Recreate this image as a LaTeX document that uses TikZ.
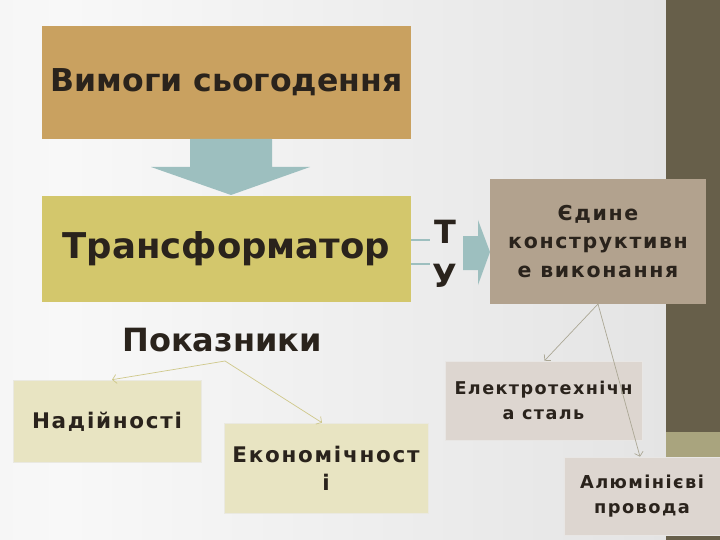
\documentclass[tikz,border=0pt]{standalone}
\usepackage{fontspec}
\setmainfont{DejaVu Sans}
\newfontfamily\spaced[LetterSpace=8]{DejaVu Sans}
\usetikzlibrary{arrows.meta}
\definecolor{bgA}{HTML}{F8F8F8}
\definecolor{bgL}{HTML}{EDEDED}
\definecolor{bgB}{HTML}{D9D9D9}
\definecolor{barDark}{HTML}{675F4A}
\definecolor{barLight}{HTML}{A9A47E}
\definecolor{tanC}{HTML}{C9A160}
\definecolor{yelC}{HTML}{D3C76C}
\definecolor{greyC}{HTML}{B2A28E}
\definecolor{paleY}{HTML}{E8E4C2}
\definecolor{paleG}{HTML}{DDD6D0}
\definecolor{arrC}{HTML}{9DBFBF}
\definecolor{txt}{HTML}{2A231C}
\definecolor{lnY}{HTML}{CFC88A}
\definecolor{lnG}{HTML}{ABA795}
\pgfdeclarehorizontalshading{bgshade}{100bp}{color(0bp)=(bgL); color(30bp)=(bgA); color(100bp)=(bgB)}
\tikzset{
  box/.style={rectangle, inner sep=2pt, align=center, text=txt, font=\bfseries},
  pale/.style={box, draw=#1!80!black!30!white, line width=0.6pt},
  conn/.style={draw=#1, line width=0.7pt, -{Straight Barb[length=4pt,width=9pt]}},
}
\begin{document}
\begin{tikzpicture}[x=1pt,y=-1pt]
\useasboundingbox (0,0) rectangle (720,540);
\shade[shading=bgshade] (0,0) rectangle (666,540);
\fill[barDark] (666,0) rectangle (720,540);
\fill[barLight] (666,432) rectangle (720,457);

% top box
\node[box, fill=tanC, minimum width=369pt, minimum height=113pt, font=\bfseries\fontsize{31.5}{36}\selectfont] (req) at (226.5,82.5) {Вимоги сьогодення};
% down arrow
\fill[arrC] (190,139) -- (272,139) -- (272,167) -- (310,167) -- (231,195) -- (151,167) -- (190,167) -- cycle;
% transformer
\node[box, fill=yelC, minimum width=369pt, minimum height=106pt, font=\bfseries\fontsize{35.5}{40}\selectfont] (tr) at (226.5,249) {Трансформатор};
\coordinate (l1) at (430,240);
\coordinate (l2) at (430,264);
\draw[arrC, line width=2.5pt] (tr.east |- l1) -- (l1);
\draw[arrC, line width=2.5pt] (tr.east |- l2) -- (l2);
\node[box, font=\bfseries\fontsize{32}{36}\selectfont] (t) at (445,232) {Т};
\node[box, font=\bfseries\fontsize{32}{36}\selectfont] (u) at (445,276) {У};
% right arrow
\fill[arrC] (463,236) -- (478,236) -- (478,220) -- (490,252) -- (478,285) -- (478,270) -- (463,270) -- cycle;
% single design
\node[box, fill=greyC, minimum width=216pt, minimum height=125pt, font=\spaced\bfseries\fontsize{20.5}{28.5}\selectfont] (ed) at (598,241.5) {Єдине\\конструктивн\\е виконання};
% indicators
\node[box, font=\bfseries\fontsize{32}{36}\selectfont] (ind) at (222,340) {Показники};
\node[pale=paleY, fill=paleY, minimum width=188pt, minimum height=82pt, font=\spaced\bfseries\fontsize{21.5}{26}\selectfont, text depth=0pt] (nad) at (107,421) {\raisebox{2pt}{Надійності}};
\node[pale=paleY, fill=paleY, minimum width=204pt, minimum height=90pt, font=\spaced\bfseries\fontsize{21.5}{28}\selectfont] (eko) at (326,468) {Економічност\\і};
\node[pale=paleG, fill=paleG, minimum width=197pt, minimum height=79pt, font=\spaced\bfseries\fontsize{17.6}{25}\selectfont] (el) at (543.5,400.5) {Електротехнічн\\а сталь};
\node[pale=paleG, fill=paleG, minimum width=156pt, minimum height=78pt, font=\spaced\bfseries\fontsize{17.8}{25.5}\selectfont] (al) at (642,496) {\raisebox{-2pt}{\begin{tabular}{@{}c@{}}Алюмінієві\\провода\end{tabular}}};
% connectors
\coordinate (indb) at (225,361);
\draw[conn=lnY] (indb) -- ([xshift=5pt]nad.north);
\draw[conn=lnY] (indb) -- ([xshift=-4pt]eko.north);
\coordinate (edb) at (598,304);
\draw[conn=lnG] (edb) -- ([xshift=1pt]el.north);
\draw[conn=lnG] (edb) -- ([xshift=-2pt]al.north);
\end{tikzpicture}
\end{document}
